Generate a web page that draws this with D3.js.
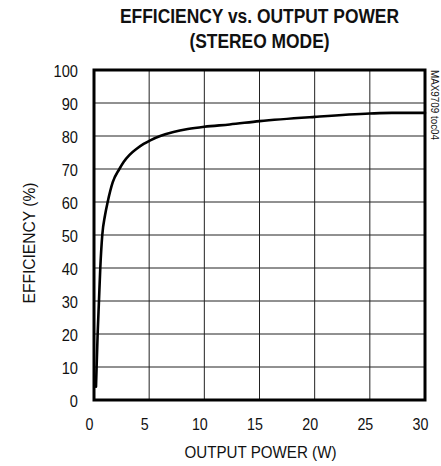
<!DOCTYPE html>
<html><head><meta charset="utf-8">
<script src="https://cdn.jsdelivr.net/npm/d3@7"></script>
<style>
html,body{margin:0;padding:0;background:#fff;}
svg text{font-family:"Liberation Sans",Arial,sans-serif;fill:#111;}
</style></head>
<body>
<svg id="chart" width="441" height="466"></svg>
<script>
const titleLines = ["EFFICIENCY vs. OUTPUT POWER", "(STEREO MODE)"];
const xLabel = "OUTPUT POWER (W)";
const yLabel = "EFFICIENCY (%)";
const sideNote = "MAX9709 toc04";
const xTicks = [0, 5, 10, 15, 20, 25, 30];
const yTicks = [0, 10, 20, 30, 40, 50, 60, 70, 80, 90, 100];
const power = [0.18, 0.33, 0.45, 0.57, 0.75, 1.0, 1.24, 1.7, 2.3, 2.7, 3.2, 3.9, 4.5, 5.1, 6.0, 7.2, 8.5, 10, 12.3, 15, 20, 25, 27, 30];
const efficiency = [4, 20, 30, 40, 50, 56, 60, 66, 70, 72.2, 74.2, 76.2, 77.6, 78.7, 80, 81.2, 82.1, 82.8, 83.5, 84.5, 85.8, 86.8, 87, 87];

const W = 441, H = 466;
const m = {left: 94, right: 16, top: 70, bottom: 66};
const svg = d3.select("#chart");
const x = d3.scaleLinear().domain([0, 30]).range([m.left, W - m.right]);
const y = d3.scaleLinear().domain([0, 100]).range([H - m.bottom, m.top]);

function squeeze(sel, factor) {
  sel.each(function () {
    const w = this.getComputedTextLength();
    d3.select(this).attr("textLength", w * factor).attr("lengthAdjust", "spacingAndGlyphs");
  });
}
function fitTo(sel, len) {
  sel.attr("textLength", len).attr("lengthAdjust", "spacingAndGlyphs");
}

// gridlines
const g = svg.append("g");
g.selectAll("line.vx").data(xTicks.slice(1, -1)).join("line")
  .attr("x1", d => x(d)).attr("x2", d => x(d))
  .attr("y1", y(0)).attr("y2", y(100))
  .attr("stroke", "#222").attr("stroke-width", 1);
g.selectAll("line.hy").data(yTicks.slice(1, -1)).join("line")
  .attr("x1", x(0)).attr("x2", x(30))
  .attr("y1", d => y(d)).attr("y2", d => y(d))
  .attr("stroke", "#222").attr("stroke-width", 1);

// curve
const line = d3.line().x((d, i) => x(power[i])).y((d, i) => y(efficiency[i])).curve(d3.curveMonotoneX);
svg.append("path").datum(power).attr("d", line)
  .attr("fill", "none").attr("stroke", "#000").attr("stroke-width", 2.6)
  .attr("stroke-linejoin", "round").attr("stroke-linecap", "round");

// frame
svg.append("rect").attr("x", x(0)).attr("y", y(100))
  .attr("width", x(30) - x(0)).attr("height", y(0) - y(100))
  .attr("fill", "none").attr("stroke", "#000").attr("stroke-width", 3);

// axes (labels only)
const xAxis = d3.axisBottom(x).tickValues(xTicks).tickSize(0).tickPadding(0);
const xa = svg.append("g").attr("transform", `translate(0,${y(0)})`).call(xAxis);
xa.select(".domain").remove();
xa.attr("font-family", null).attr("font-size", null);
const xt = xa.selectAll("text").attr("font-size", 17).attr("dx", -5).attr("dy", 0).attr("y", 30);
squeeze(xt, 0.84);

const yAxis = d3.axisLeft(y).tickValues(yTicks).tickSize(0).tickPadding(0);
const ya = svg.append("g").attr("transform", `translate(${x(0)},0)`).call(yAxis);
ya.select(".domain").remove();
ya.attr("font-family", null).attr("font-size", null);
const yt = ya.selectAll("text").attr("font-size", 17).attr("x", -16).attr("dy", "0.36em");
squeeze(yt, 0.86);
svg.selectAll(".tick text").attr("fill", "#111");

// titles
const tt = svg.append("g").selectAll("text").data(titleLines).join("text")
  .attr("x", (x(0) + x(30)) / 2).attr("y", (d, i) => 23 + i * 25)
  .attr("text-anchor", "middle").attr("font-size", 20).attr("font-weight", "bold")
  .text(d => d);
squeeze(tt, 0.87);

const xl = svg.append("text").attr("x", (x(0) + x(30)) / 2 + 1).attr("y", 458)
  .attr("text-anchor", "middle").attr("font-size", 17).text(xLabel);
fitTo(xl, 152);

const yl = svg.append("text").attr("transform", `translate(35,243) rotate(-90)`)
  .attr("text-anchor", "middle").attr("font-size", 17).text(yLabel);
fitTo(yl, 121);

const sn = svg.append("text").attr("transform", `translate(431,${y(100)}) rotate(90)`)
  .attr("text-anchor", "start").attr("font-size", 10).text(sideNote);
fitTo(sn, 70);
</script>
</body></html>
